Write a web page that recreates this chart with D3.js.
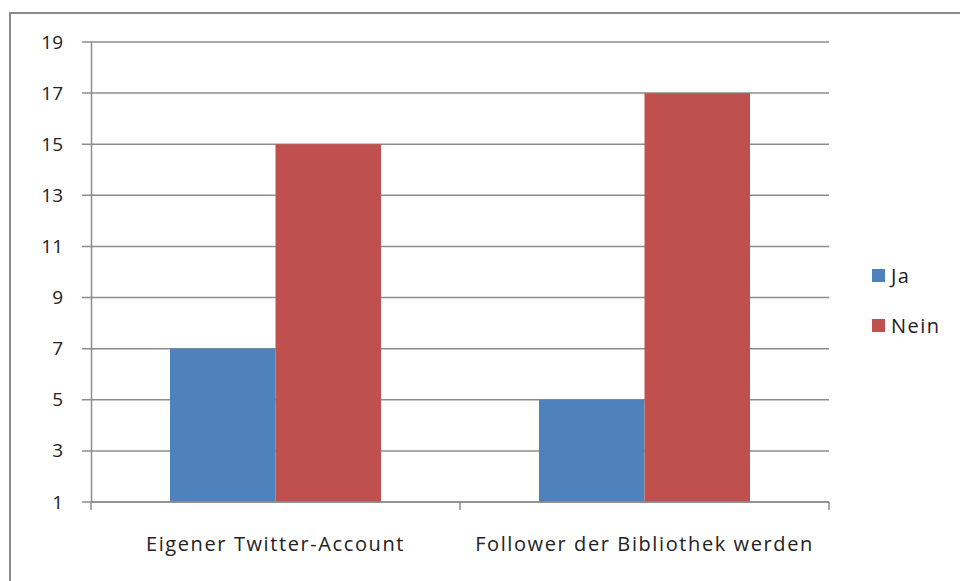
<!DOCTYPE html>
<html><head><meta charset="utf-8">
<script src="https://cdn.jsdelivr.net/npm/d3@7"></script>
<style>body{margin:0;background:#fff}svg{display:block}</style>
</head><body><svg id="c" width="960" height="581"></svg>
<script>
const categories = ["Eigener Twitter-Account", "Follower der Bibliothek werden"];
const seriesNames = ["Ja", "Nein"];
const ja = [7, 5];
const nein = [15, 17];
const yTicks = [1, 3, 5, 7, 9, 11, 13, 15, 17, 19];
const colors = ["#4F81BD", "#C0504D"];

const svg = d3.select("#c");
const font = "'Open Sans', sans-serif";
const fs = 19;
svg.append("rect").attr("x", 10).attr("y", 13).attr("width", 960).attr("height", 600)
  .attr("fill", "none").attr("stroke", "#8a8a8a").attr("stroke-width", 2);

const L = 91, R = 829, T = 42, B = 502;
const x0 = d3.scaleBand().domain(categories).range([L, R]).paddingInner(0).paddingOuter(0);
const y = d3.scaleLinear().domain([1, 19]).range([B, T]);
const gap = x0.bandwidth() * 79 / 369;
const x1 = d3.scaleBand().domain(seriesNames).range([gap, x0.bandwidth() - gap]).padding(0);

// gridlines
svg.append("g").selectAll("line").data(yTicks).join("line")
  .attr("x1", L - 9).attr("x2", R).attr("y1", d => y(d)).attr("y2", d => y(d))
  .attr("stroke", "#8c8c8c").attr("stroke-width", 1.5);

const data = [ja, nein];
const g = svg.append("g");
categories.forEach((c, i) => {
  seriesNames.forEach((s, j) => {
    g.append("rect").attr("x", x0(c) + x1(s)).attr("width", x1.bandwidth())
      .attr("y", y(data[j][i])).attr("height", y(1) - y(data[j][i])).attr("fill", colors[j]);
  });
});

// y axis
const ya = svg.append("g").attr("transform", `translate(${L},0)`)
  .call(d3.axisLeft(y).tickValues(yTicks).tickSize(0).tickPadding(28));
ya.select(".domain").attr("stroke", "#8c8c8c").attr("stroke-width", 1.5);
ya.selectAll("text").attr("font-family", font).attr("font-size", fs).attr("fill", "#222");

// x axis
svg.append("line").attr("x1", L).attr("x2", R).attr("y1", B).attr("y2", B).attr("stroke", "#8c8c8c").attr("stroke-width", 1.5);
const xa = svg.append("g").attr("transform", `translate(0,${B})`)
  .call(d3.axisBottom(x0).tickSize(0).tickPadding(35));
xa.select(".domain").remove();
xa.selectAll("text").attr("font-family", font).attr("font-size", 20).attr("letter-spacing", 1.6).attr("fill", "#222");
const bounds = [L, L + x0.bandwidth(), R];
svg.append("g").selectAll("line").data(bounds).join("line")
  .attr("x1", d => d).attr("x2", d => d).attr("y1", B).attr("y2", B + 8)
  .attr("stroke", "#8c8c8c").attr("stroke-width", 1.5);

// legend
const lg = svg.append("g");
seriesNames.forEach((s, j) => {
  const yy = 269 + j * 50;
  lg.append("rect").attr("x", 872).attr("y", yy).attr("width", 13).attr("height", 13).attr("fill", colors[j]);
  lg.append("text").attr("x", 891).attr("y", yy + 14).text(s)
    .attr("font-family", font).attr("font-size", 20).attr("letter-spacing", 1.5).attr("fill", "#222");
});
</script></body></html>
